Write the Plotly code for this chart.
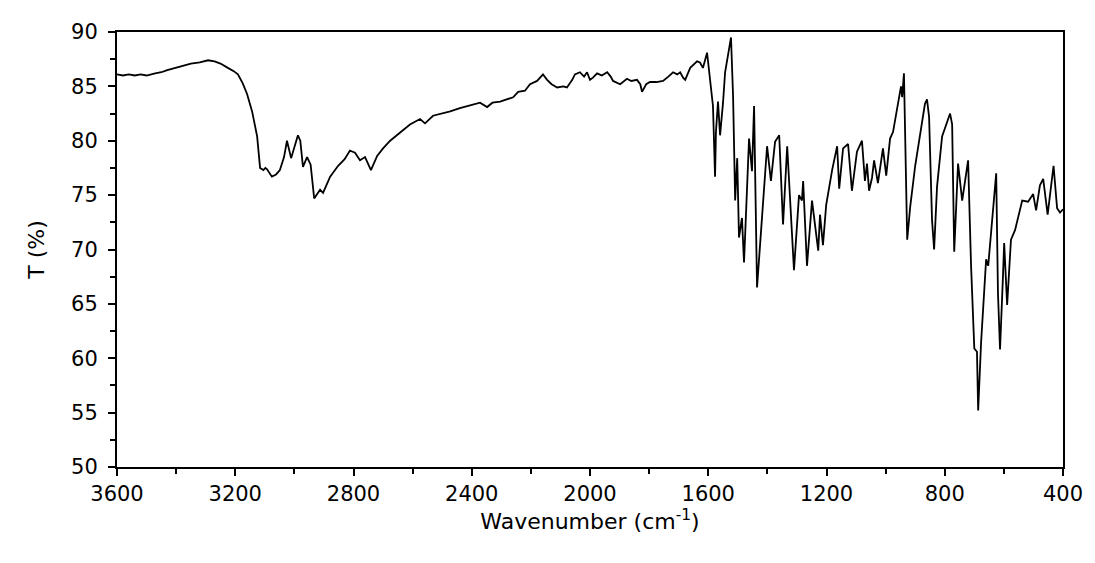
import plotly.graph_objects as go

wavenumber = [
    3600, 3580, 3560, 3540, 3520, 3500, 3471, 3450, 3430, 3404, 3380, 3350, 3320, 3292,
    3270, 3250, 3225, 3205, 3191, 3175, 3160, 3143, 3126, 3116, 3105, 3098, 3093, 3076,
    3062, 3049, 3035, 3025, 3011, 3000, 2988, 2980, 2971, 2957, 2945, 2933, 2925, 2913,
    2903, 2879, 2852, 2830, 2812, 2795, 2778, 2761, 2741, 2720, 2700, 2676, 2640, 2609,
    2575, 2558, 2531, 2500, 2473, 2440, 2416, 2390, 2372, 2348, 2330, 2304, 2280, 2260,
    2243, 2220, 2203, 2179, 2159, 2145, 2130, 2111, 2090, 2078, 2060, 2051, 2034, 2020,
    2010, 2000, 1990, 1976, 1960, 1942, 1930, 1922, 1898, 1885, 1875, 1860, 1841, 1830,
    1824, 1810, 1797, 1775, 1753, 1735, 1719, 1705, 1695, 1685, 1678, 1661, 1645, 1638,
    1628, 1618, 1604, 1594, 1584, 1577, 1574, 1567, 1560, 1550, 1543, 1523, 1516, 1509,
    1502, 1496, 1486, 1479, 1469, 1462, 1452, 1445, 1435, 1418, 1401, 1388, 1374, 1360,
    1347, 1333, 1310, 1293, 1283, 1279, 1266, 1249, 1239, 1228, 1222, 1212, 1201, 1181,
    1164, 1157, 1144, 1127, 1114, 1097, 1080, 1070, 1063, 1056, 1046, 1039, 1026, 1009,
    998, 985, 975, 958, 948, 944, 938, 927, 917, 900, 890, 867, 860, 853, 843, 836, 826,
    809, 782, 775, 768, 755, 741, 721, 711, 700, 691, 687, 677, 660, 653, 626, 620, 613,
    603, 599, 589, 576, 562, 538, 518, 501, 491, 478, 467, 452, 432, 420, 410, 400,
]

transmittance = [
    86.1, 86.0, 86.1, 86.0, 86.1, 86.0, 86.2, 86.3, 86.5, 86.7, 86.9, 87.1, 87.2, 87.4,
    87.3, 87.1, 86.7, 86.4, 86.1, 85.3, 84.3, 82.7, 80.4, 77.5, 77.3, 77.5, 77.4, 76.7,
    76.9, 77.3, 78.5, 80.0, 78.4, 79.5, 80.5, 80.0, 77.6, 78.5, 77.8, 74.7, 75.0, 75.5,
    75.2, 76.7, 77.7, 78.3, 79.1, 78.9, 78.2, 78.5, 77.3, 78.6, 79.3, 80.0, 80.8, 81.5,
    82.0, 81.6, 82.3, 82.5, 82.7, 83.0, 83.2, 83.4, 83.5, 83.1, 83.5, 83.6, 83.8, 84.0,
    84.5, 84.6, 85.2, 85.5, 86.1, 85.6, 85.2, 84.9, 85.0, 84.9, 85.6, 86.1, 86.3, 85.9,
    86.3, 85.6, 85.8, 86.2, 86.0, 86.3, 85.9, 85.5, 85.2, 85.5, 85.7, 85.5, 85.6, 85.2,
    84.5, 85.2, 85.4, 85.4, 85.5, 85.9, 86.3, 86.1, 86.3, 85.8, 85.6, 86.7, 87.1, 87.3,
    87.2, 86.7, 88.1, 85.9, 83.2, 76.7, 80.8, 83.6, 80.5, 83.5, 86.3, 89.5, 84.1, 74.5,
    78.4, 71.1, 72.9, 68.8, 74.7, 80.2, 77.2, 83.2, 66.5, 72.6, 79.5, 76.3, 79.9, 80.5,
    72.3, 79.5, 68.1, 75.0, 74.5, 76.3, 68.5, 74.5, 72.3, 69.9, 73.2, 70.4, 74.1, 77.3,
    79.5, 75.6, 79.3, 79.7, 75.4, 79.0, 80.0, 76.3, 77.9, 75.4, 76.6, 78.2, 76.1, 79.3,
    76.8, 80.2, 80.8, 83.4, 85.0, 84.0, 86.2, 70.9, 73.9, 77.7, 79.5, 83.4, 83.8, 82.2,
    72.7, 70.0, 75.8, 80.4, 82.5, 81.5, 69.8, 77.9, 74.5, 78.2, 68.5, 60.9, 60.6, 55.2,
    61.5, 69.1, 68.5, 77.0, 66.0, 60.8, 67.6, 70.6, 64.9, 70.9, 71.8, 74.5, 74.4, 75.1,
    73.6, 75.9, 76.5, 73.2, 77.7, 73.8, 73.4, 73.7,
]

x_ticks = [3600, 3200, 2800, 2400, 2000, 1600, 1200, 800, 400]
y_ticks = [50, 55, 60, 65, 70, 75, 80, 85, 90]

FONT = "DejaVu Sans"

fig = go.Figure(
    go.Scatter(
        x=wavenumber,
        y=transmittance,
        mode="lines",
        line=dict(color="black", width=1.8),
        showlegend=False,
    )
)

fig.update_layout(
    width=1095,
    height=563,
    margin=dict(l=109, r=40, t=19, b=104),
    paper_bgcolor="white",
    plot_bgcolor="white",
    font=dict(family=FONT, size=21, color="black"),
)

fig.update_xaxes(
    range=[3600, 400],
    tickvals=x_ticks,
    ticktext=[str(v) for v in x_ticks],
    ticks="outside",
    ticklen=7,
    tickwidth=2,
    tickcolor="black",
    minor=dict(ticks="outside", ticklen=5, tickwidth=2, dtick=200, tickcolor="black", showgrid=False),
    showline=True,
    linewidth=2,
    linecolor="black",
    mirror=True,
    showgrid=False,
    zeroline=False,
    tickfont=dict(family=FONT, size=21),
    title=dict(text="Wavenumber (cm<sup>-1</sup>)", font=dict(family=FONT, size=22), standoff=4),
)

fig.update_yaxes(
    range=[50, 90],
    tickvals=y_ticks,
    ticks="outside",
    ticklen=7,
    tickwidth=2,
    tickcolor="black",
    minor=dict(ticks="outside", ticklen=5, tickwidth=2, dtick=2.5, tickcolor="black", showgrid=False),
    showline=True,
    linewidth=2,
    linecolor="black",
    mirror=True,
    showgrid=False,
    zeroline=False,
    ticklabelstandoff=6,
    tickfont=dict(family=FONT, size=21),
    title=dict(text="T (%)", font=dict(family=FONT, size=22), standoff=20),
)

fig.write_html("out.html")
